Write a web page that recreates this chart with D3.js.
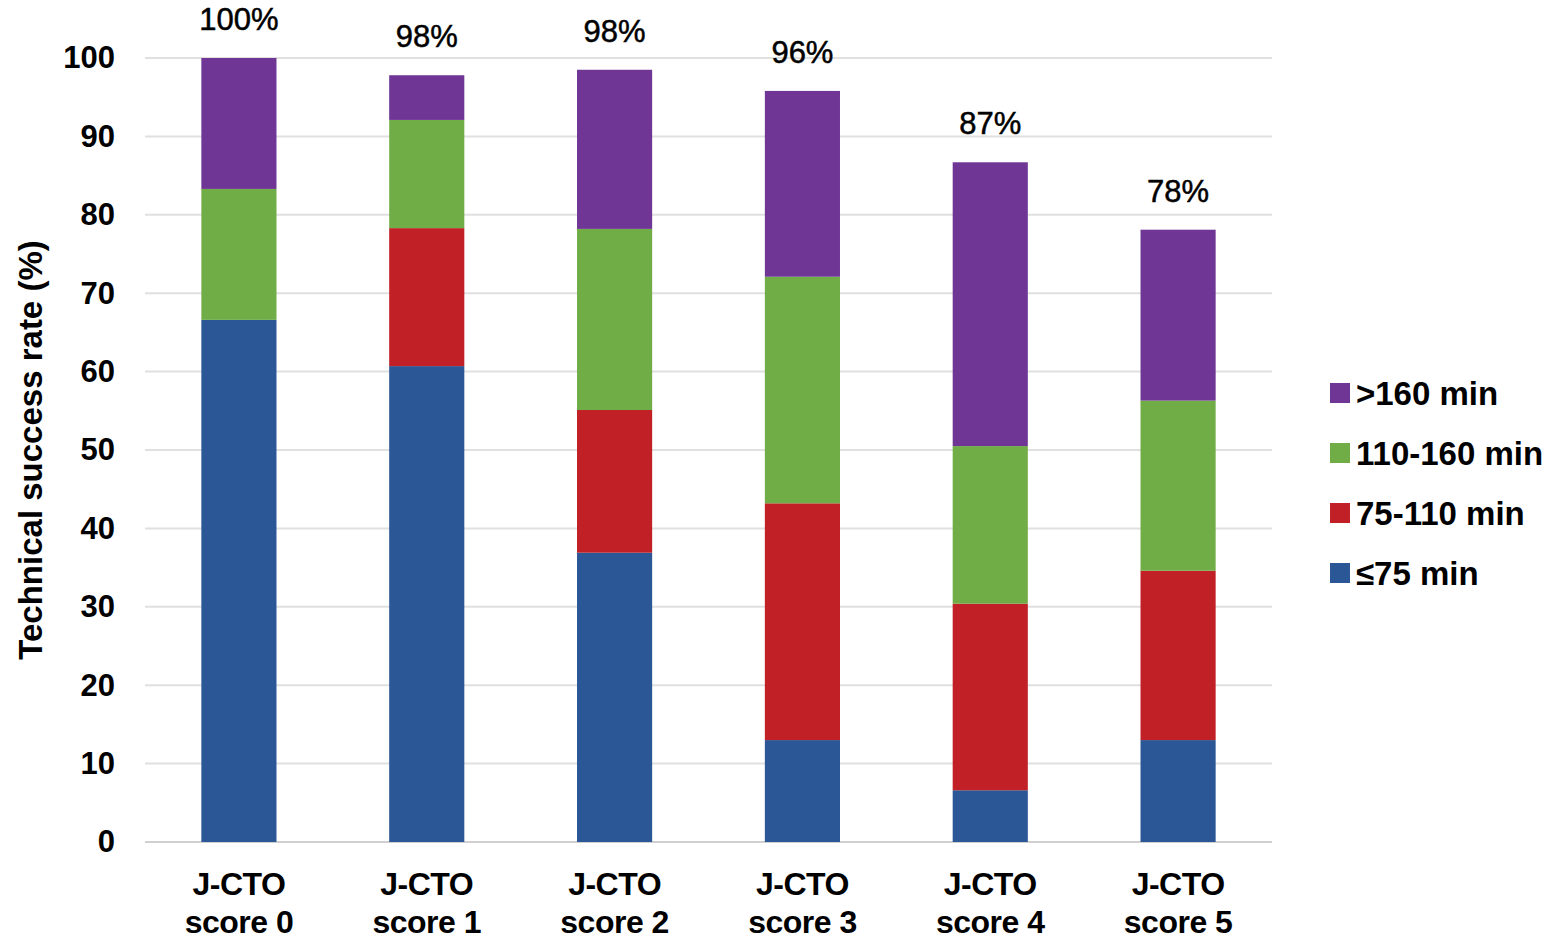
<!DOCTYPE html>
<html>
<head>
<meta charset="utf-8">
<script src="https://cdnjs.cloudflare.com/ajax/libs/d3/7.8.5/d3.min.js"></script>
<style>
  body { margin: 0; background: #fff; }
  svg text { font-family: "Liberation Sans", Arial, sans-serif; fill: #000; }
</style>
</head>
<body>
<div id="chart"></div>
<script>
// chart data
var categories = ["score 0", "score 1", "score 2", "score 3", "score 4", "score 5"];
var seriesNames = ["\u226475 min", "75-110 min", "110-160 min", ">160 min"];
var le75 = [66.6, 60.7, 36.9, 13.0, 6.6, 13.0];
var t75to110 = [0, 17.6, 18.2, 30.2, 23.8, 21.6];
var t110to160 = [16.7, 13.8, 23.1, 28.9, 20.1, 21.7];
var gt160 = [16.7, 5.7, 20.3, 23.7, 36.2, 21.8];
var totalLabels = ["100%", "98%", "98%", "96%", "87%", "78%"];
var yTicks = [0, 10, 20, 30, 40, 50, 60, 70, 80, 90, 100];

var colors = ["#2b5797", "#c12026", "#70ad47", "#703696"];

var width = 1565, height = 941;
var margin = { left: 145, right: 293, top: 58, bottom: 99 };

var svg = d3.select("#chart").append("svg")
  .attr("width", width)
  .attr("height", height);

var x = d3.scaleBand()
  .domain(categories)
  .range([margin.left, width - margin.right])
  .paddingInner(0.6)
  .paddingOuter(0.3);

var y = d3.scaleLinear()
  .domain([0, 100])
  .range([height - margin.bottom, margin.top]);

// gridlines
svg.append("g")
  .selectAll("line")
  .data(yTicks)
  .enter().append("line")
  .attr("x1", margin.left)
  .attr("x2", width - margin.right)
  .attr("y1", function (d) { return y(d); })
  .attr("y2", function (d) { return y(d); })
  .attr("stroke", function (d) { return d === 0 ? "#d0d0d0" : "#e0e0e0"; })
  .attr("stroke-width", 2);

// y tick labels
var yAxis = svg.append("g")
  .attr("transform", "translate(" + (margin.left - 30) + ",0)")
  .call(d3.axisLeft(y).tickValues(yTicks).tickSize(0).tickPadding(0));
yAxis.select(".domain").remove();
yAxis.selectAll("text")
  .attr("font-size", 31)
  .attr("font-weight", "bold")
  .attr("font-family", "Liberation Sans, Arial, sans-serif")
  .attr("fill", "#000");

// stacked data
var rows = categories.map(function (c, i) {
  return { cat: c, s0: le75[i], s1: t75to110[i], s2: t110to160[i], s3: gt160[i] };
});
var stack = d3.stack().keys(["s0", "s1", "s2", "s3"]);
var layers = stack(rows);

svg.append("g")
  .selectAll("g")
  .data(layers)
  .enter().append("g")
  .attr("fill", function (d, i) { return colors[i]; })
  .selectAll("rect")
  .data(function (d) { return d; })
  .enter().append("rect")
  .attr("x", function (d) { return x(d.data.cat); })
  .attr("width", x.bandwidth())
  .attr("y", function (d) { return y(d[1]); })
  .attr("height", function (d) { return y(d[0]) - y(d[1]); });

// total labels above bars
svg.append("g")
  .selectAll("text")
  .data(rows)
  .enter().append("text")
  .attr("x", function (d) { return x(d.cat) + x.bandwidth() / 2; })
  .attr("y", function (d) { return y(d.s0 + d.s1 + d.s2 + d.s3) - 28; })
  .attr("text-anchor", "middle")
  .attr("font-size", 31)
  .attr("stroke", "#000")
  .attr("stroke-width", 0.5)
  .text(function (d, i) { return totalLabels[i]; });

// x labels, two lines
var xl = svg.append("g")
  .selectAll("text")
  .data(categories)
  .enter().append("text")
  .attr("text-anchor", "middle")
  .attr("font-size", 32)
  .attr("font-weight", "bold")
  .attr("letter-spacing", -0.5)
  .attr("transform", function (d) {
    return "translate(" + (x(d) + x.bandwidth() / 2) + "," + 895 + ")";
  });
xl.append("tspan").attr("x", 0).attr("y", 0).text("J-CTO");
xl.append("tspan").attr("x", 0).attr("y", 38).text(function (d) { return d; });

// y axis title
svg.append("text")
  .attr("transform", "translate(42," + 450 + ") rotate(-90)")
  .attr("text-anchor", "middle")
  .attr("font-size", 33)
  .attr("font-weight", "bold")
  .text("Technical success rate (%)");

// legend (top entry is the last series)
var legendOrder = [3, 2, 1, 0];
var legend = svg.append("g")
  .selectAll("g")
  .data(legendOrder)
  .enter().append("g")
  .attr("transform", function (d, i) { return "translate(1330," + (393 + i * 60) + ")"; });
legend.append("rect")
  .attr("x", 0)
  .attr("y", -10)
  .attr("width", 20)
  .attr("height", 20)
  .attr("fill", function (d) { return colors[d]; });
legend.append("text")
  .attr("x", 26)
  .attr("y", 12)
  .attr("font-size", 33)
  .attr("font-weight", "bold")
  .text(function (d) { return seriesNames[d]; });
</script>
</body>
</html>
